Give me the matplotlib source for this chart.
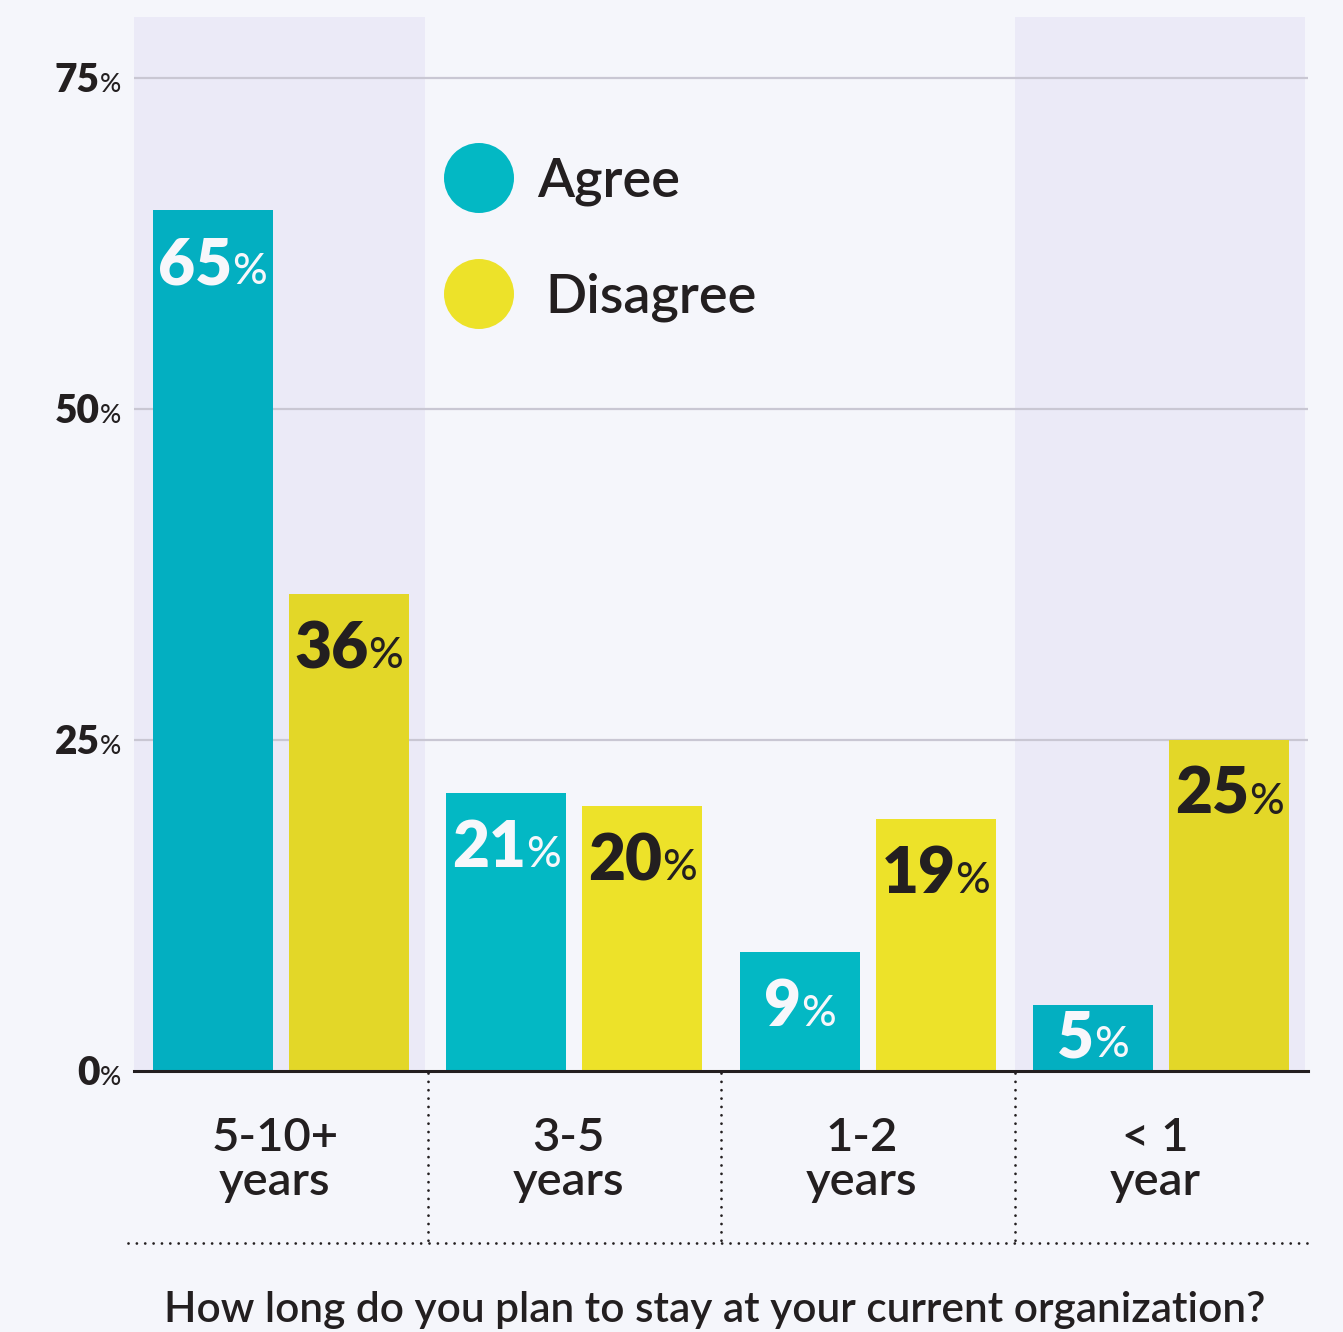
import numpy as np
import matplotlib; matplotlib.use("Agg")
import matplotlib.pyplot as plt
import matplotlib.transforms as mtransforms
from matplotlib.colors import to_rgb

# ---- data ----
categories = ["5-10+\nyears", "3-5\nyears", "1-2\nyears", "< 1\nyear"]
series = ["Agree", "Disagree"]
agree = [65, 21, 9, 5]
disagree = [36, 20, 19, 25]
yticks = [0, 25, 50, 75]
shaded_groups = [0, 3]
question = "How long do you plan to stay at your current organization?"

# ---- style ----
BG = "#F5F6FB"; BAND = "#EBEAF7"; INK = "#231F20"; GRID = "#C9C7D3"
TEAL = "#03B8C4"; YELLOW = "#EDE229"; WHITE = "#F7F7FB"
FONT = "Lato"
W, H = 1343, 1332

def tinted(c):
    # bars sitting in a shaded band pick up the band tint (multiply blend)
    t = np.array(to_rgb(BAND)) / np.array(to_rgb(BG))
    return tuple(np.array(to_rgb(c)) * t)

fig = plt.figure(figsize=(W / 100, H / 100), dpi=100, facecolor=BG)
# axes box: x 134..1308 px, y 17..1071 px; 75% gridline sits at y=78
ax = fig.add_axes([134 / W, 1 - 1071 / H, (1308 - 134) / W, (1071 - 17) / H])
ax.set_facecolor(BG)
ymax = 75 * (1071 - 17) / (1071 - 78)
ax.set_xlim(0, len(categories)); ax.set_ylim(0, ymax)

for g in shaded_groups:
    ax.axvspan(g, g + 0.99, color=BAND, lw=0, zorder=0)
for v in yticks[1:]:
    ax.axhline(v, color=GRID, lw=1.6, zorder=1)

bw, gap = 0.409, 0.055
x = np.arange(len(categories)) + 0.5
px_per_unit = (1071 - 78) / 75
renderer = fig.canvas.get_renderer()

def pct_label(xd, yd, num, color, nsize, psize, trans, dy_px=0, ha="center"):
    # big bold number followed by a smaller "%" on the same baseline
    t1 = ax.text(xd, yd, num, color=color, fontsize=nsize, fontweight="heavy",
                 family=FONT, ha="left", va="baseline", zorder=5, transform=trans)
    t2 = ax.text(xd, yd, "%", color=color, fontsize=psize, fontweight="medium",
                 family=FONT, ha="left", va="baseline", zorder=5, transform=trans)
    w1 = t1.get_window_extent(renderer).width
    w2 = t2.get_window_extent(renderer).width
    x0 = -(w1 + w2) / 2 if ha == "center" else -(w1 + w2)
    t1.set_transform(mtransforms.offset_copy(trans, fig, x=x0, y=-dy_px, units="dots"))
    t2.set_transform(mtransforms.offset_copy(trans, fig, x=x0 + w1, y=-dy_px, units="dots"))

for i in range(len(categories)):
    shaded = i in shaded_groups
    for j, (vals, col, tcol) in enumerate([(agree, TEAL, WHITE), (disagree, YELLOW, INK)]):
        xc = x[i] + (j - 0.5) * (bw + gap)
        c = tinted(col) if shaded else col
        ax.bar(xc, vals[i], width=bw, color=c, lw=0, zorder=3)
        h_px = vals[i] * px_per_unit
        dy = 74 if h_px > 110 else h_px - 14
        pct_label(xc, vals[i], str(vals[i]), tcol, 46, 31, ax.transData, dy_px=dy)

# y tick labels, right-aligned left of the plot
for v in yticks:
    pct_label(-0.045, v, str(v), INK, 28, 19, ax.transData, dy_px=14, ha="right")

for s in ["top", "right", "left"]:
    ax.spines[s].set_visible(False)
ax.spines["bottom"].set_color(INK); ax.spines["bottom"].set_linewidth(2.2)
ax.spines["bottom"].set_zorder(6)
ax.set_xticks([]); ax.set_yticks([])

# category labels and dotted separators below the axis
blend = mtransforms.blended_transform_factory(ax.transData, fig.transFigure)
fy = lambda p: 1 - p / H
for i, cat in enumerate(categories):
    top, bot = cat.split("\n")
    ax.text(x[i] - 0.02, fy(1138), top, transform=blend, ha="center", va="center",
            fontsize=34, fontweight="semibold", family=FONT, color=INK)
    ax.text(x[i] - 0.02, fy(1182), bot, transform=blend, ha="center", va="center",
            fontsize=34, fontweight="semibold", family=FONT, color=INK)
dots = dict(color=INK, lw=2.0, ls=(0, (0.01, 3.0)), dash_capstyle="round",
            transform=blend, clip_on=False, zorder=2)
for b in range(1, len(categories)):
    ax.plot([b, b], [fy(1073), fy(1243)], **dots)
ax.plot([-0.02, len(categories)], [fy(1243), fy(1243)], **dots)

fig.text(715 / W, fy(1310), question, ha="center", va="center", fontsize=30.5,
         fontweight="semibold", family=FONT, color=INK)

# legend: filled circles with labels
for k, (name, col, ypx, xtxt) in enumerate([(series[0], TEAL, 178, 537),
                                            (series[1], YELLOW, 294, 545)]):
    fig.patches.append(matplotlib.patches.Ellipse((479 / W, fy(ypx)), 70 / W, 70 / H,
                       transform=fig.transFigure, color=col, lw=0, zorder=10))
    fig.text(xtxt / W, fy(ypx + 3), name, ha="left", va="center", fontsize=39,
             fontweight="semibold", family=FONT, color=INK, zorder=10)

fig.savefig("out.png", dpi=100, facecolor=BG)
